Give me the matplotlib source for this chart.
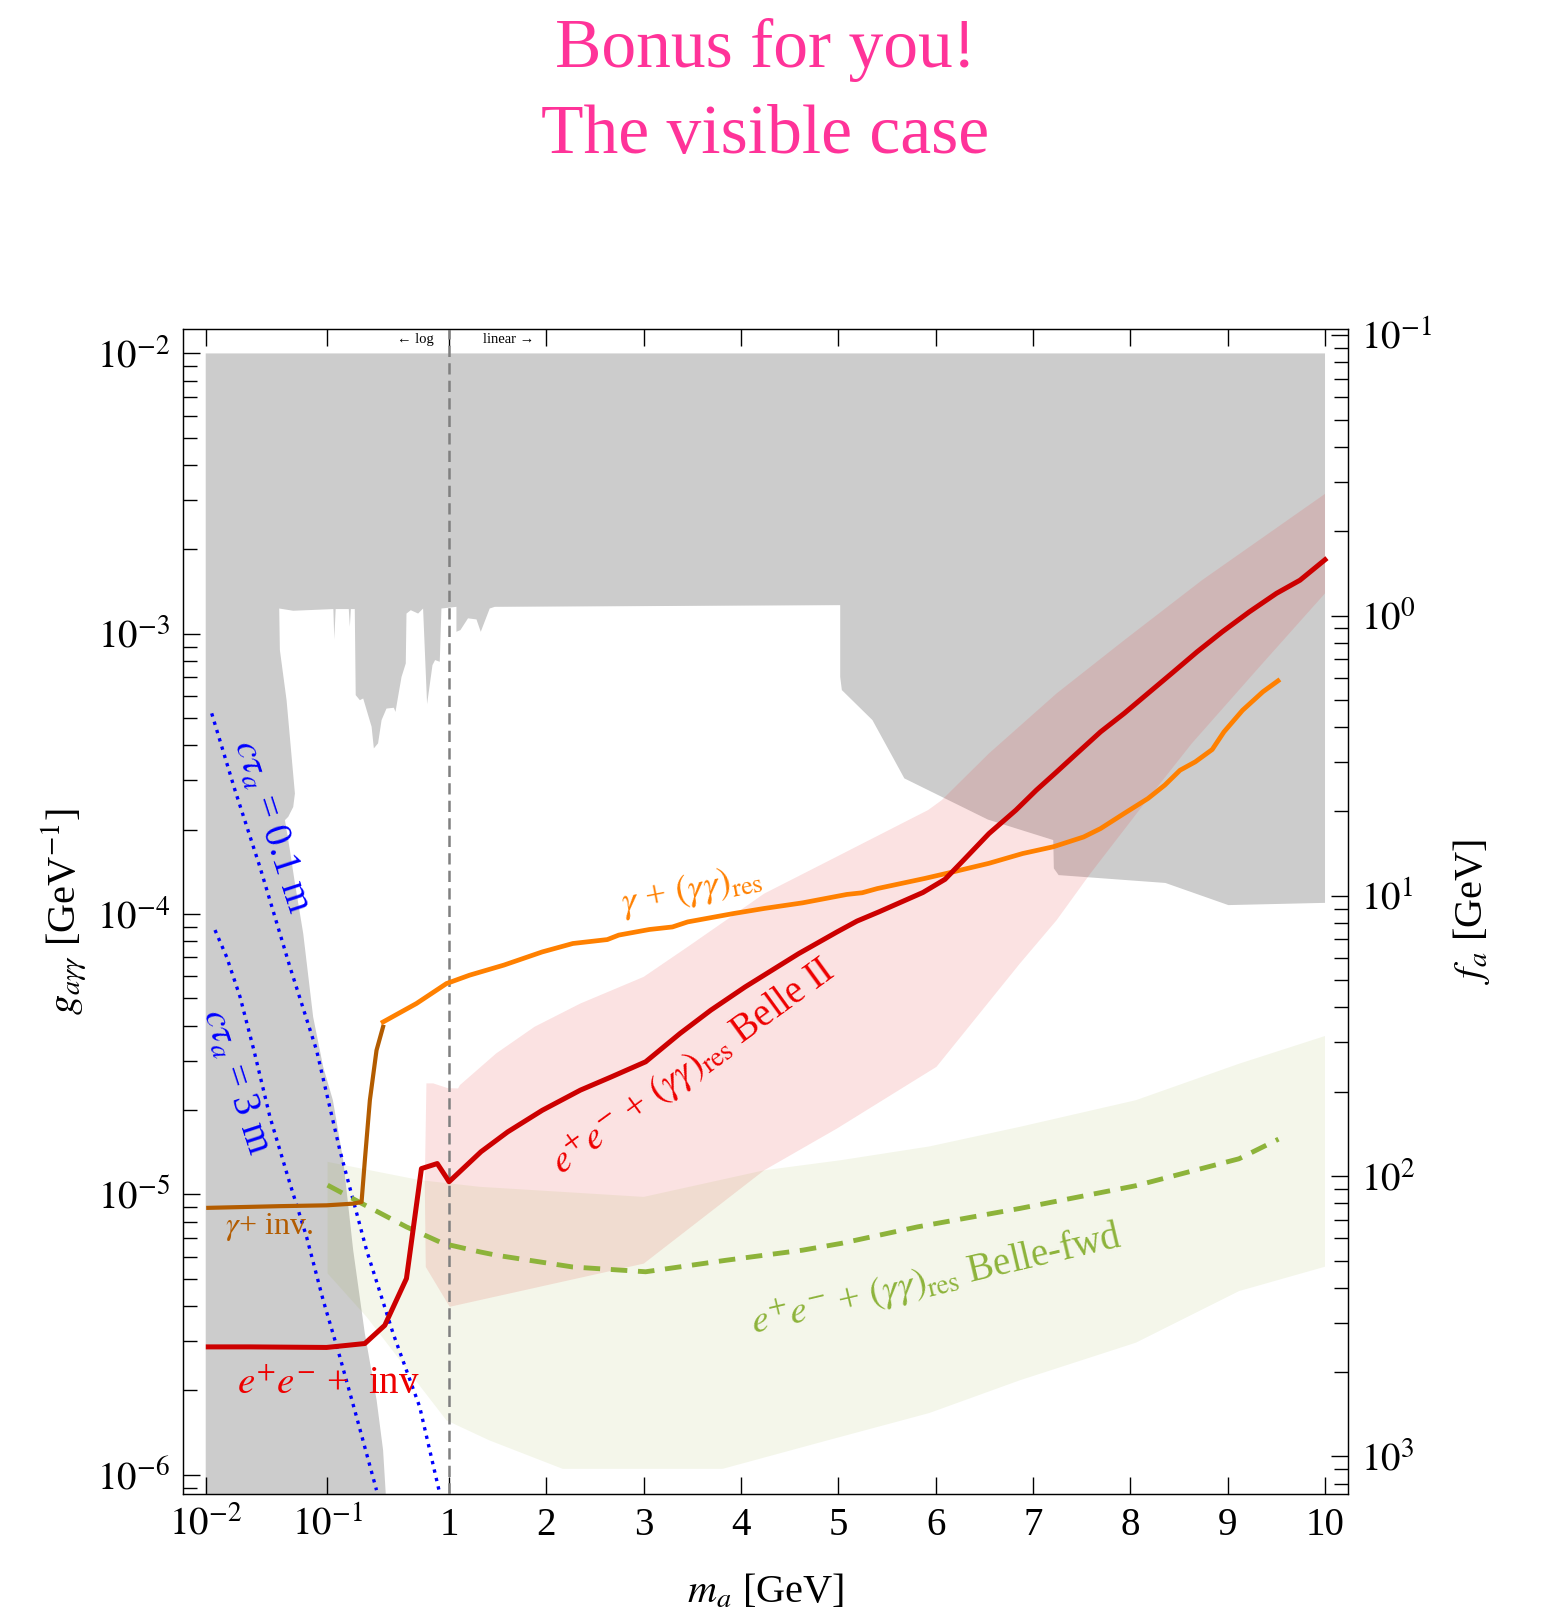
import numpy as np
import matplotlib
matplotlib.use("Agg")
import matplotlib.pyplot as plt
import matplotlib.transforms as mtransforms
from matplotlib.ticker import FixedLocator, NullFormatter, NullLocator

plt.rcParams['font.family'] = ['Liberation Serif', 'DejaVu Serif']
plt.rcParams['mathtext.fontset'] = 'stix'

# g_{a gamma gamma} = alpha / (2 pi f_a)
ALPHA_2PI = 1.0 / 137.036 / (2 * np.pi)

# ---- excluded region (grey): m_a [GeV], log10 g [GeV^-1] ----
gray_m = [0.01, 10.0, 10.0, 9.007, 8.36, 7.263, 7.214, 7.208, 6.537, 5.678, 5.557, 5.35, 5.036, 5.019, 5.019,
          1.470, 1.418, 1.326, 1.282, 1.195, 1.117, 1.076, 1.076,
          0.866, 0.839, 0.768, 0.731, 0.660, 0.612, 0.557, 0.485, 0.447, 0.441, 0.407, 0.381, 0.363, 0.352,
          0.306, 0.279, 0.261, 0.241, 0.231, 0.197, 0.185, 0.171, 0.168, 0.156, 0.153, 0.150, 0.117, 0.114,
          0.112, 0.0524, 0.0402,
          0.0407, 0.0462, 0.0541, 0.0524, 0.0477, 0.0448, 0.0492, 0.0541, 0.0633, 0.0764, 0.0924, 0.111, 0.135,
          0.163, 0.203, 0.254, 0.287, 0.302, 0.305, 0.01]
gray_logg = [-2.0, -2.0, -3.960, -3.968, -3.889, -3.861, -3.837, -3.736, -3.663, -3.516, -3.439, -3.308, -3.201, -3.154, -2.898,
             -2.904, -2.910, -2.993, -2.949, -2.945, -2.987, -2.993, -2.904,
             -2.910, -3.100, -3.094, -3.112, -3.251, -2.910, -2.928, -2.916, -2.928, -3.106, -3.154, -3.225, -3.279, -3.264,
             -3.267, -3.308, -3.391, -3.409, -3.332, -3.231, -3.237, -3.219, -2.912, -2.912, -2.975, -2.912, -2.912, -3.020,
             -2.912, -2.918, -2.910,
             -3.058, -3.237, -3.570, -3.618, -3.653, -3.665, -3.772, -3.890, -4.069, -4.367, -4.545, -4.664, -4.878,
             -5.199, -5.495, -5.734, -5.912, -6.069, -6.3, -6.3]

# ---- Belle II e+e- + (gg)_res band ----
pink_m = [0.652, 0.741, 0.976, 1.093, 1.112, 1.485, 1.879, 2.350, 3.000, 3.452, 3.846, 4.238, 4.810, 5.922,
          6.061, 6.547, 7.242, 7.937, 8.736, 10.0,
          10.0, 9.327, 8.632, 8.145, 7.590, 7.242, 6.866, 6.008, 4.986, 4.238, 3.000, 1.007, 0.644, 0.632]
pink_logg = [-4.604, -4.604, -4.621, -4.622, -4.610, -4.497, -4.402, -4.319, -4.224, -4.117, -4.022, -3.927, -3.826, -3.629,
             -3.594, -3.427, -3.213, -3.023, -2.809, -2.501,
             -2.856, -3.118, -3.391, -3.605, -3.855, -4.022, -4.176, -4.545, -4.765, -4.914, -5.247, -5.401, -5.259, -4.961]

# ---- Belle-fwd band ----
green_m = [0.1004, 0.574, 1.315, 3.0, 4.238, 5.026, 5.934, 6.865, 8.057, 9.116, 10.0,
           10.0, 9.116, 8.057, 6.866, 5.934, 4.872, 3.812, 2.167, 1.411, 0.952, 0.210, 0.1004]
green_logg = [-4.884, -4.949, -4.973, -5.009, -4.914, -4.878, -4.829, -4.759, -4.664, -4.534, -4.435,
              -5.258, -5.345, -5.529, -5.663, -5.780, -5.879, -5.979, -5.979, -5.877, -5.806, -5.437, -5.282]

# ---- projected sensitivity curves ----
red_m = [0.0105, 0.0231, 0.0985, 0.2033, 0.2965, 0.4467, 0.593, 0.80, 0.952, 1.0, 1.328, 1.603, 1.958,
         2.350, 2.666, 3.020, 3.373, 3.689, 4.042, 4.593, 4.985, 5.192, 5.418, 5.869, 6.096, 6.269, 6.547, 6.825,
         7.034, 7.242, 7.450, 7.694, 7.937, 8.18, 8.423, 8.684, 8.945, 9.222, 9.501, 9.743, 10.0]
red_logg = [-5.544, -5.544, -5.546, -5.532, -5.467, -5.300, -4.908, -4.890, -4.940, -4.955, -4.848, -4.777, -4.700,
            -4.628, -4.581, -4.527, -4.426, -4.343, -4.260, -4.141, -4.064, -4.025, -3.992, -3.923, -3.876, -3.814, -3.713, -3.629,
            -3.558, -3.493, -3.427, -3.350, -3.284, -3.213, -3.142, -3.065, -2.993, -2.922, -2.856, -2.809, -2.736]

orange_m = [0.287, 0.540, 0.952, 1.211, 1.564, 1.958, 2.272, 2.626, 2.744, 3.059, 3.295, 3.452, 3.924, 4.238,
            4.632, 5.087, 5.245, 5.401, 5.887, 6.148, 6.547, 6.894, 7.208, 7.52, 7.694, 7.937, 8.18, 8.354, 8.51,
            8.667, 8.841, 8.962, 9.153, 9.362, 9.517]
orange_logg = [-4.385, -4.319, -4.248, -4.218, -4.182, -4.135, -4.105, -4.091, -4.075, -4.055, -4.046, -4.028, -3.998, -3.980,
               -3.960, -3.930, -3.924, -3.909, -3.873, -3.852, -3.819, -3.784, -3.760, -3.725, -3.695, -3.641, -3.588, -3.540, -3.487,
               -3.457, -3.413, -3.350, -3.273, -3.207, -3.168]

brown_m = [0.0105, 0.0407, 0.0985, 0.163, 0.191, 0.2033, 0.2235, 0.2535, 0.287]
brown_logg = [-5.048, -5.042, -5.039, -5.033, -5.027, -4.878, -4.664, -4.486, -4.402]

fwd_m = [0.1004, 0.197, 0.4467, 0.893, 1.316, 1.486, 2.272, 3.020, 3.846, 4.632, 5.026, 5.812, 6.866, 8.057,
         9.116, 9.522]
fwd_logg = [-4.967, -5.035, -5.116, -5.175, -5.205, -5.217, -5.259, -5.276, -5.235, -5.199, -5.175, -5.116, -5.050, -4.969,
            -4.873, -4.803]

# decay-length contours
ctau01_m = [0.0112, 0.0174, 0.0279, 0.0492, 0.0815, 0.1267, 0.210, 0.347, 0.574, 0.839]
ctau01_logg = [-3.284, -3.558, -3.832, -4.188, -4.486, -4.843, -5.199, -5.496, -5.758, -6.067]
ctau3_m = [0.01192, 0.01487, 0.01914, 0.0249, 0.0337, 0.0492, 0.0675, 0.0923, 0.1267, 0.1738, 0.2535]
ctau3_logg = [-4.057, -4.153, -4.295, -4.486, -4.723, -4.961, -5.152, -5.377, -5.580, -5.794, -6.055]

# axis ticks
x_ticks = [0.01, 0.1, 1, 2, 3, 4, 5, 6, 7, 8, 9, 10]
x_labels = [r'$10^{-2}$', r'$10^{-1}$', '1', '2', '3', '4', '5', '6', '7', '8', '9', '10']
y_ticks = [1e-6, 1e-5, 1e-4, 1e-3, 1e-2]
y_labels = [r'$10^{-6}$', r'$10^{-5}$', r'$10^{-4}$', r'$10^{-3}$', r'$10^{-2}$']
fa_ticks = [0.1, 1, 10, 100, 1000]
fa_labels = [r'$10^{-1}$', r'$10^{0}$', r'$10^{1}$', r'$10^{2}$', r'$10^{3}$']

# log below 1 GeV, linear above (1 GeV of linear range = 0.8 decade)
LIN = 0.8


def to_axis(m):
    m = np.asarray(m, dtype=float)
    lg = np.log10(np.maximum(m, 1e-12))
    return np.where(m <= 1, lg, LIN * (m - 1))


def from_axis(u):
    u = np.asarray(u, dtype=float)
    return np.where(u <= 0, np.power(10.0, np.minimum(u, 0)), 1 + u / LIN)


def g(logg):
    return np.power(10.0, np.asarray(logg))


fig = plt.figure(figsize=(15.47, 16.19), dpi=100)
ax = fig.add_axes([0.1181, 0.0770, 0.7535, 0.7196])
ax.set_xscale('function', functions=(to_axis, from_axis))
ax.set_yscale('log')
ylo, yhi = 10 ** -6.070, 10 ** -1.914
ax.set_xlim(0.00647, 10.24)
ax.set_ylim(ylo, yhi)

ax.fill(gray_m, g(gray_logg), color='#cccccc', lw=0, zorder=1)
ax.fill(pink_m, g(pink_logg), color=(0.9, 0.2, 0.2), alpha=0.14, lw=0, zorder=2)
ax.fill(green_m, g(green_logg), color=(0.59, 0.67, 0.2), alpha=0.1, lw=0, zorder=3)

ax.axvline(1.0, color='#808080', lw=1.8, dashes=(4.5, 2.5), zorder=4)

ax.plot(ctau01_m, g(ctau01_logg), color='#0000ff', lw=2.4, dashes=(1, 1.6), zorder=5)
ax.plot(ctau3_m, g(ctau3_logg), color='#0000ff', lw=2.4, dashes=(1, 1.6), zorder=5)
ax.plot(fwd_m, g(fwd_logg), color='#8db33a', lw=3.5, dashes=(3.4, 2.2), zorder=6)
ax.plot(brown_m, g(brown_logg), color='#b35c00', lw=3.0, zorder=6)
ax.plot(orange_m, g(orange_logg), color='#ff8000', lw=3.4, zorder=7)
ax.plot(red_m, g(red_logg), color='#cc0000', lw=3.6, zorder=8)

# curve labels
lab = dict(ha='center', va='center', rotation_mode='anchor', zorder=9)
ax.text(0.0341, 10 ** -3.686, r'$c\tau_a$ = 0.1 m', color='#0000ff', fontsize=28, rotation=-72, **lab)
ax.text(0.0174, 10 ** -4.596, r'$c\tau_a$ = 3 m', color='#0000ff', fontsize=28, rotation=-72, **lab)
ax.text(3.494, 10 ** -3.915, r'$\gamma$ + $(\gamma\gamma)_{\mathrm{res}}$', color='#ff8000', fontsize=27,
        rotation=11, **lab)
ax.text(3.50, 10 ** -4.545, r'$e^{+}e^{-}$ + $(\gamma\gamma)_{\mathrm{res}}$ Belle II', color='#ee0000',
        fontsize=28, rotation=36, **lab)
ax.text(6.008, 10 ** -5.302, r'$e^{+}e^{-}$ + $(\gamma\gamma)_{\mathrm{res}}$ Belle-fwd', color='#8db33a',
        fontsize=28, rotation=13.3, **lab)
ax.text(0.0328, 10 ** -5.116, r'$\gamma$+ inv.', color='#b35c00', fontsize=23, **lab)
ax.text(0.1023, 10 ** -5.676, r'$e^{+}e^{-}$ +  inv', color='#ee0000', fontsize=28, **lab)

# log / linear marker at the top
top = mtransforms.blended_transform_factory(ax.transData, ax.transAxes)
ax.text(0.75, 0.991, '\u2190 log', transform=top, ha='right', va='center', fontsize=10.5)
ax.text(1.35, 0.991, 'linear \u2192', transform=top, ha='left', va='center', fontsize=10.5)

# ticks
ax.set_xticks(x_ticks, x_labels)
ax.xaxis.set_minor_locator(NullLocator())
ax.set_yticks(y_ticks, y_labels)
ax.yaxis.set_minor_locator(FixedLocator([k * 10.0 ** n for n in range(-7, -1) for k in range(2, 10)]))
ax.yaxis.set_minor_formatter(NullFormatter())
ax.tick_params(which='both', direction='in', top=True, right=False, labelsize=28, pad=9, width=1.0)
ax.tick_params(which='major', length=12)
ax.tick_params(which='minor', length=10)
for s in ax.spines.values():
    s.set_linewidth(1.0)
    s.set_color('#222222')

ax2 = ax.twinx()
ax2.set_yscale('log')
ax2.set_ylim(ALPHA_2PI / ylo, ALPHA_2PI / yhi)
ax2.set_yticks(fa_ticks, fa_labels)
ax2.yaxis.set_minor_locator(FixedLocator([10.0 ** (n + 1) / k for n in range(-2, 4) for k in range(2, 10)]))
ax2.yaxis.set_minor_formatter(NullFormatter())
ax2.tick_params(which='both', direction='in', labelsize=28, pad=9, width=1.0)
ax2.tick_params(which='major', length=12)
ax2.tick_params(which='minor', length=10)

# axis titles
ax.set_xlabel(r'$m_a$ [GeV]', fontsize=29)
ax.xaxis.set_label_coords(0.5, -0.0845)
ax.xaxis.label.set_va('center')
ax.set_ylabel(r'$g_{a\gamma\gamma}$ [GeV$^{-1}$]', fontsize=29)
ax.yaxis.set_label_coords(-0.1018, 0.5)
ax.yaxis.label.set_va('center')
ax2.set_ylabel(r'$f_a$ [GeV]', fontsize=29, rotation=90)
ax2.yaxis.set_label_coords(1.1053, 0.5)
ax2.yaxis.label.set_va('center')

fig.text(0.4945, 0.9588, 'Bonus for you!', ha='center', va='baseline', fontsize=50, color='#ff3399')
fig.text(0.4945, 0.9053, 'The visible case', ha='center', va='baseline', fontsize=50, color='#ff3399')

fig.savefig('out.png', dpi=100)
